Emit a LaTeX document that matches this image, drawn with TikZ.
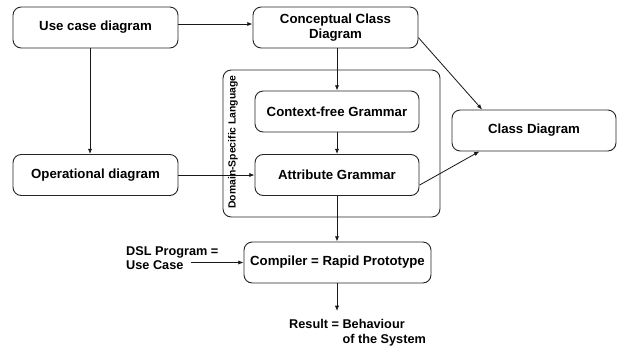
\documentclass[tikz,border=0pt]{standalone}
\usepackage{fontspec}
\setmainfont{Liberation Sans}
\usetikzlibrary{arrows.meta}

\tikzset{
    box/.style={draw=black!85, line width=0.8pt, rounded corners=7pt, minimum width=4.95cm, minimum height=1.23cm, align=center, font=\fontsize{11.3}{13}\selectfont\bfseries},
    container/.style={draw=black!85, line width=0.8pt, rounded corners=7pt, minimum width=6.51cm, minimum height=4.41cm},
    lbl/.style={inner sep=0pt, align=left, font=\fontsize{10.85}{12.2}\selectfont\bfseries},
    arr/.style={-{Latex[length=4.5pt,width=3.6pt]}, line width=0.7pt, black!90}
}

\begin{document}
\begin{tikzpicture}
        \useasboundingbox (0,0) rectangle (18.63,-10.41);

        % domain-specific language frame
        \node[container] (dsl) at (9.945,-4.305) {};
        \node[rotate=90, inner sep=0pt, font=\fontsize{8.85}{10}\selectfont\bfseries] (dsllabel) at (6.99,-4.26) {Domain-Specific Language};

        % boxes
        \node[box] (usecase) at (2.865,-0.825) {Use case diagram};
        \node[box] (concept) at (10.065,-0.825) {Conceptual Class\\Diagram};
        \node[box] (oper) at (2.865,-5.25) {Operational diagram};
        \node[box, minimum width=4.92cm] (cfg) at (10.11,-3.345) {Context-free Grammar};
        \node[box, minimum width=4.92cm] (attr) at (10.11,-5.25) {Attribute Grammar};
        \node[box, minimum width=4.92cm] (classd) at (16.02,-3.915) {Class Diagram};
        \node[box, minimum width=5.61cm] (compiler) at (10.125,-7.875) {Compiler = Rapid Prototype};

        % free labels
        \node[lbl, anchor=west] (dslprog) at (3.78,-7.74) {DSL Program =\\Use Case};
        \coordinate (dslend) at (5.73,-7.875);
        \node[lbl, anchor=north west] (result) at (8.67,-9.58) {Result = Behaviour\\\phantom{Result = }of the System};
        \coordinate (resin) at (10.11,-9.33);

        % arrows
        \draw[arr] (usecase.east |- 0,-0.72) -- (concept.west |- 0,-0.72);
        \draw[arr] (usecase.south -| 2.7,0) -- (oper.north -| 2.7,0);
        \draw[arr] (concept.south -| cfg.north) -- (cfg.north);
        \draw[arr] (cfg) -- (attr);
        \draw[arr] (oper) -- (attr);
        \draw[arr] (concept.-7) -- (classd.158);
        \draw[arr] (attr.-7.6) -- (classd.-159);
        \draw[arr] (attr.south) -- (compiler.north -| attr.south);
        \draw[arr] (dslend) -- (compiler.west);
        \draw[arr] (compiler.south -| resin) -- (resin);
\end{tikzpicture}
\end{document}
